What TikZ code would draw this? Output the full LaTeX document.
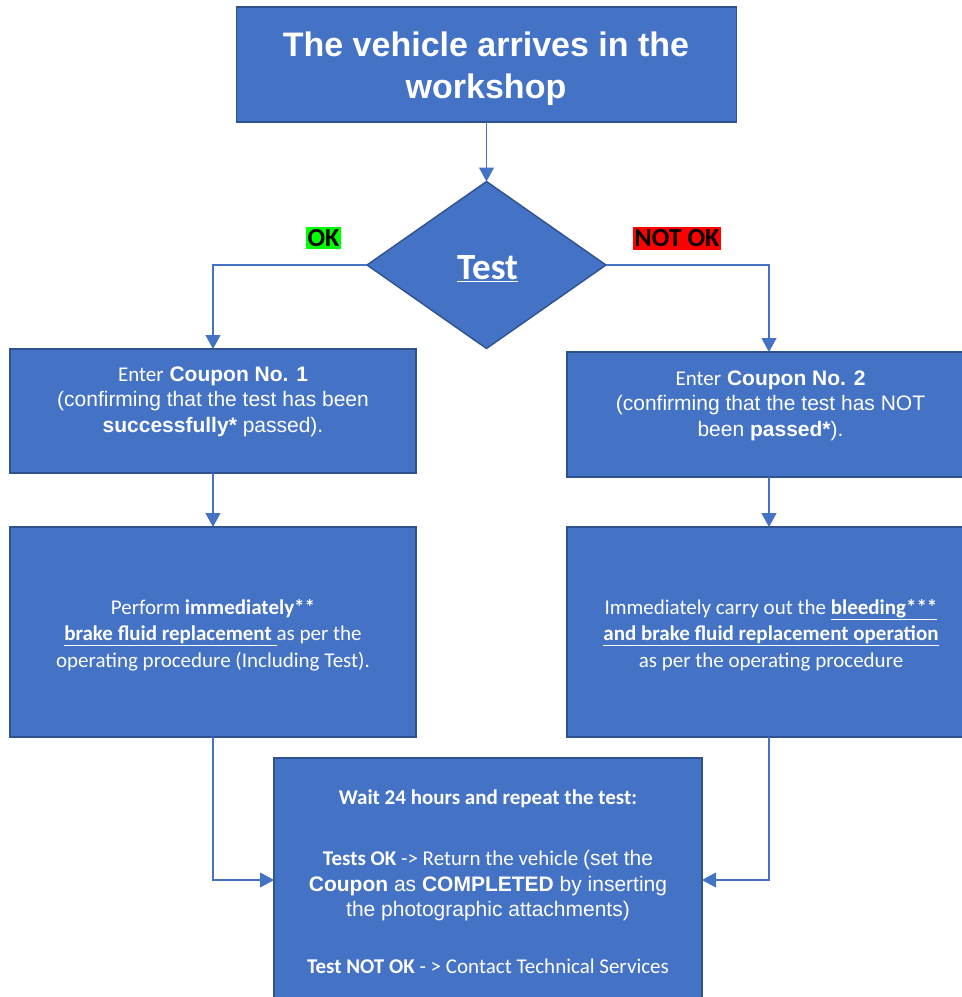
\documentclass[tikz,border=0pt]{standalone}
\usepackage{fontspec}
\setmainfont{Liberation Sans}
\newfontfamily\calibri{Carlito}
\usetikzlibrary{shapes.geometric,arrows.meta}
\definecolor{boxblue}{HTML}{4472C4}
\definecolor{boxedge}{HTML}{2F528F}
\definecolor{okgreen}{HTML}{00FF00}
\definecolor{nokred}{HTML}{FF0000}
\begin{document}
\begin{tikzpicture}[x=1pt,y=-1pt,
  box/.style={draw=boxedge,line width=1.4pt,fill=boxblue,inner sep=0pt,outer sep=0pt},
  txt/.style={text=white,align=center,inner sep=0pt},
  conn/.style={draw=boxblue,line width=1.1pt,-{Triangle[length=14pt,width=15pt]}},
  flag/.style={text=black,inner xsep=1.5pt,inner ysep=2.5pt,font=\calibri\bfseries\fontsize{26}{30}\selectfont},
  body/.style={font=\fontsize{21}{25.5}\selectfont},
  cbody/.style={font=\calibri\fontsize{21}{26.5}\selectfont}]
\useasboundingbox (0,0) rectangle (962,997);
\clip (0,0) rectangle (962,997);
% boxes
\node[box,minimum width=500pt,minimum height=115pt] (top) at (486.5,64.5) {};
\node[box,diamond,minimum width=239pt,minimum height=167pt] (d) at (486.5,265) {};
\node[box,minimum width=406pt,minimum height=124pt] (b1) at (213,411) {};
\node[box,minimum width=404pt,minimum height=125pt] (b2) at (769,414.5) {};
\node[box,minimum width=406pt,minimum height=210pt] (b3) at (213,632) {};
\node[box,minimum width=404pt,minimum height=210pt] (b4) at (769,632) {};
\node[box,minimum width=428pt,minimum height=244pt] (b5) at (488,880) {};
% texts
\node[txt,font=\bfseries\fontsize{34}{42}\selectfont] (t0) at (486,69)
  {The vehicle arrives in the\\workshop};
\node[txt,font=\calibri\bfseries\fontsize{37}{40}\selectfont] (tt) at (487.5,269)
  {\underline{Test}};
\node[txt,body] (t1) at (213,401.5)
  {{\calibri Enter} \textbf{Coupon No. 1}\\(confirming that the test has been\\\textbf{successfully*} passed).};
\node[txt,body] (t2) at (770.5,405.5)
  {{\calibri Enter} \textbf{Coupon No. 2}\\(confirming that the test has NOT\\been \textbf{passed*}).};
\node[txt,cbody] (t3) at (213,635)
  {Perform \textbf{immediately**}\\\underline{\textbf{brake fluid replacement}\ }as per the\\operating procedure (Including Test).};
\node[txt,cbody] (t4) at (771,635)
  {Immediately carry out the \underline{\textbf{bleeding***}}\\\underline{\textbf{and brake fluid replacement operation}}\\as per the operating procedure};
\node[txt,body] (t5) at (488,882)
  {{\calibri\bfseries Wait 24 hours and repeat the test:}\\[35.5pt]
   {\calibri\textbf{Tests OK} -> Return the vehicle }(set the\\
   \textbf{Coupon} as \textbf{COMPLETED} by inserting\\
   the photographic attachments)\\[31.5pt]
   {\calibri\textbf{Test NOT OK} - > Contact Technical Services}};
% flags
\node[flag,fill=okgreen] (ok) at (323.5,238) {OK};
\node[flag,fill=nokred] (nok) at (677,238.5) {NOT OK};
% connectors
\draw[conn] (top.south) -- (d.north);
\draw[conn] (d.west) -| (b1.north);
\draw[conn] (d.east) -| (b2.north);
\draw[conn] (b1.south) -- (b3.north);
\draw[conn] (b2.south) -- (b4.north);
\draw[conn] (b3.south) |- (b5.west);
\draw[conn] (b4.south) |- (b5.east);
\end{tikzpicture}
\end{document}
